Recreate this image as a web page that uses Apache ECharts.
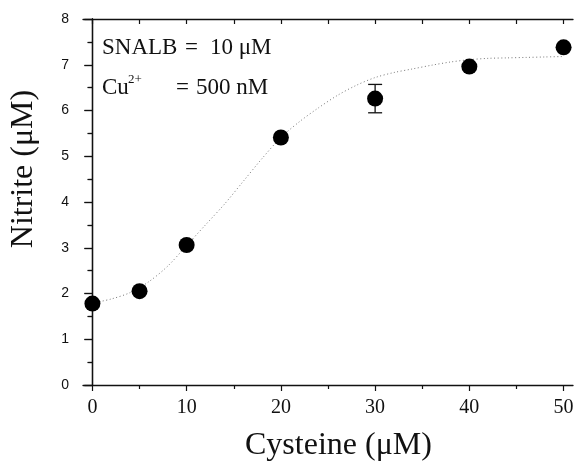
<!DOCTYPE html>
<html>
<head>
<meta charset="utf-8">
<style>
  html, body { margin: 0; padding: 0; background: #fff; }
  #chart { width: 578px; height: 465px; }
</style>
<script src="https://cdn.jsdelivr.net/npm/echarts@6/dist/echarts.min.js"></script>
</head>
<body>
<div id="chart"></div>
<script>
// Measured nitrite release vs. cysteine concentration
const cysteine = [0, 5, 10, 20, 30, 40, 50];
const nitrite  = [1.78, 2.05, 3.06, 5.41, 6.26, 6.96, 7.38];
const nitriteErr = [0, 0, 0, 0, 0.31, 0, 0];

// Fitted sigmoid curve, sampled along cysteine
const fitX = [0, 2, 4, 6, 8, 10, 12, 14, 16, 18, 20, 22, 24, 26, 28, 30, 32, 34, 36, 38, 40, 42, 44, 46, 48, 50];
const fitY = [1.79, 1.88, 2.02, 2.26, 2.60, 3.05, 3.50, 3.95, 4.45, 4.95, 5.41, 5.76, 6.06, 6.33, 6.55, 6.72, 6.83, 6.91, 6.99, 7.06, 7.11, 7.14, 7.15, 7.16, 7.17, 7.18];

// Axis ticks
const xMajor = [0, 10, 20, 30, 40, 50];
const xMinor = [5, 15, 25, 35, 45];
const xTop   = [0, 5, 10, 15, 20, 25, 30, 35, 40, 45, 50];

const serif = '"Liberation Serif", "DejaVu Serif", serif';
const sans  = '"Liberation Sans", Arial, sans-serif';
const axisLine = { show: true, lineStyle: { color: '#111', width: 1.3 } };

const chart = echarts.init(document.getElementById('chart'));

const option = {
  backgroundColor: '#fff',
  animation: false,
  grid: { left: 83, right: 5, top: 19, bottom: 80 },
  xAxis: [
    {
      type: 'value', position: 'bottom', min: -1, max: 51,
      axisLine: axisLine,
      splitLine: { show: false },
      axisTick: { show: true, inside: false, length: 6, customValues: xMajor, lineStyle: { color: '#111', width: 1.2 } },
      axisLabel: { show: true, customValues: xMajor, margin: 13, color: '#111', fontFamily: serif, fontSize: 20 }
    },
    {
      type: 'value', position: 'bottom', min: -1, max: 51,
      axisLine: { show: false },
      splitLine: { show: false },
      axisTick: { show: true, inside: false, length: 4, customValues: xMinor, lineStyle: { color: '#111', width: 1.2 } },
      axisLabel: { show: false }
    },
    {
      type: 'value', position: 'top', min: -1, max: 51,
      axisLine: axisLine,
      splitLine: { show: false },
      axisTick: { show: true, inside: true, length: 5, customValues: xTop, lineStyle: { color: '#111', width: 1.2 } },
      axisLabel: { show: false }
    }
  ],
  yAxis: [
    {
      type: 'value', position: 'left', min: 0, max: 8, interval: 1,
      axisLine: axisLine,
      splitLine: { show: false },
      axisTick: { show: true, inside: false, length: 8, lineStyle: { color: '#111', width: 1.2 } },
      minorTick: { show: true, splitNumber: 2, length: 4, lineStyle: { color: '#111', width: 1.2 } },
      axisLabel: { show: true, margin: 14, color: '#111', fontFamily: sans, fontSize: 14 }
    },
    {
      type: 'value', position: 'right', min: 0, max: 8, interval: 1,
      axisLine: axisLine,
      splitLine: { show: false },
      axisTick: { show: true, inside: true, length: 8, lineStyle: { color: '#111', width: 1.2 } },
      minorTick: { show: true, splitNumber: 2, length: 5, lineStyle: { color: '#111', width: 1.2 } },
      axisLabel: { show: false }
    }
  ],
  graphic: [
    // axis titles
    { type: 'text', left: 245, top: 430, style: { text: 'Cysteine (μM)', font: '32px ' + serif, fill: '#111' } },
    { type: 'text', x: 24, y: 169, rotation: Math.PI / 2,
      style: { text: 'Nitrite (μM)', font: '32px ' + serif, fill: '#111', align: 'center', verticalAlign: 'middle' } },
    // experimental conditions
    { type: 'text', x: 102, y: 48, style: { text: 'SNALB', font: '23px ' + serif, fill: '#111', verticalAlign: 'middle' } },
    { type: 'text', x: 185, y: 48, style: { text: '=', font: '23px ' + serif, fill: '#111', verticalAlign: 'middle' } },
    { type: 'text', x: 210, y: 48, style: { text: '10 μM', font: '23px ' + serif, fill: '#111', verticalAlign: 'middle' } },
    { type: 'text', x: 102, y: 88, style: { text: 'Cu', font: '23px ' + serif, fill: '#111', verticalAlign: 'middle' } },
    { type: 'text', x: 128, y: 80, style: { text: '2+', font: '13px ' + serif, fill: '#111', verticalAlign: 'middle' } },
    { type: 'text', x: 176, y: 88, style: { text: '=', font: '23px ' + serif, fill: '#111', verticalAlign: 'middle' } },
    { type: 'text', x: 196, y: 88, style: { text: '500 nM', font: '23px ' + serif, fill: '#111', verticalAlign: 'middle' } }
  ],
  series: [
    {
      name: 'fit', type: 'line', xAxisIndex: 0, yAxisIndex: 0,
      data: fitX.map((x, i) => [x, fitY[i]]),
      smooth: 0.3, showSymbol: false, symbol: 'none',
      lineStyle: { color: '#777', width: 1, type: [1, 2.5] },
      z: 2
    },
    {
      name: 'error', type: 'custom', xAxisIndex: 0, yAxisIndex: 0,
      data: cysteine.map((x, i) => [x, nitrite[i], nitriteErr[i]]),
      renderItem: function (params, api) {
        const x = api.value(0), y = api.value(1), e = api.value(2);
        if (!e) return null;
        const hi = api.coord([x, y + e]);
        const lo = api.coord([x, y - e]);
        const hw = 7;
        const style = { stroke: '#111', lineWidth: 1.3 };
        return {
          type: 'group',
          children: [
            { type: 'line', shape: { x1: hi[0], y1: hi[1], x2: lo[0], y2: lo[1] }, style: style },
            { type: 'line', shape: { x1: hi[0] - hw, y1: hi[1], x2: hi[0] + hw, y2: hi[1] }, style: style },
            { type: 'line', shape: { x1: lo[0] - hw, y1: lo[1], x2: lo[0] + hw, y2: lo[1] }, style: style }
          ]
        };
      },
      z: 3
    },
    {
      name: 'nitrite', type: 'scatter', xAxisIndex: 0, yAxisIndex: 0,
      data: cysteine.map((x, i) => [x, nitrite[i]]),
      symbol: 'circle', symbolSize: 16,
      itemStyle: { color: '#000', opacity: 1 },
      z: 4
    }
  ]
};

chart.setOption(option);
</script>
</body>
</html>
